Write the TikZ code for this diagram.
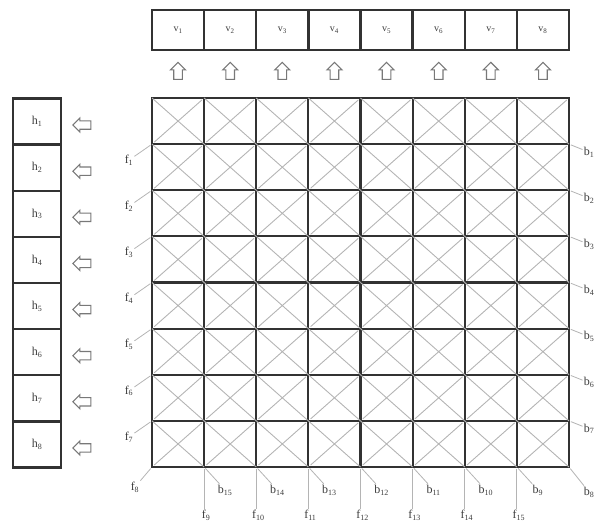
\documentclass[tikz,border=0pt]{standalone}
\usepackage{fontspec}
\setmainfont{Liberation Serif}
\usepackage{tikz}
\usetikzlibrary{shapes,arrows,positioning,shapes.arrows,calc}
\definecolor{gridgray}{RGB}{50, 50, 50}
\definecolor{crossgray}{RGB}{180, 180, 180}
\definecolor{arrowgray}{RGB}{120, 120, 120}
\definecolor{labelgray}{RGB}{60, 60, 60}

\begin{document}
\begin{tikzpicture}[
    x=1pt, y=-1pt,
    cellbox/.style={
        rectangle, draw=gridgray, line width=2.2pt,
        minimum width=52.125pt, minimum height=46.125pt,
        inner sep=0pt, outer sep=0pt
    },
    varbox/.style={
        rectangle, draw=gridgray, line width=2.4pt,
        minimum width=#1, inner sep=0pt, outer sep=0pt,
        text=labelgray, font=\fontsize{10}{11}\selectfont
    },
    uparrow/.style={
        single arrow, draw=arrowgray, line width=1.1pt, shape border rotate=90,
        minimum height=17pt, minimum width=15pt, single arrow head extend=3pt,
        inner sep=3.5pt
    },
    leftarrow/.style={
        single arrow, draw=arrowgray, line width=1.1pt, shape border rotate=180,
        minimum height=18pt, minimum width=14pt, single arrow head extend=2.5pt,
        inner sep=3.2pt
    },
    crossline/.style={draw=crossgray, line width=0.9pt, shorten <=3pt, shorten >=3pt},
    labelline/.style={draw=crossgray, line width=0.8pt, shorten <=2pt},
    diaglabel/.style={text=labelgray, inner sep=1pt, font=\fontsize{12}{13}\selectfont}
]
    \useasboundingbox (0,0) rectangle (599,522);

    \foreach \r in {1,...,8}
        \foreach \c in {1,...,8}
            \node[cellbox] (c-\r-\c) at ({152+(\c-0.5)*52.125},{98+(\r-0.5)*46.125}) {};
    \foreach \r in {1,...,8}
        \foreach \c in {1,...,8}
            \draw[crossline] (c-\r-\c.north west) -- (c-\r-\c.south east)
                             (c-\r-\c.north east) -- (c-\r-\c.south west);

    \foreach \c in {1,...,8} {
        \node[varbox=52.125pt, minimum height=40pt] (v\c) at ({152+(\c-0.5)*52.125},30) {v\textsubscript{\c}};
        \node[uparrow] (up\c) at ({152+(\c-0.5)*52.125},73) {};
    }
    \foreach \r in {1,...,8} {
        \node[varbox=48pt, minimum height=46.125pt, font=\fontsize{12}{13}\selectfont] (h\r) at (37,{98.5+(\r-0.5)*46.125}) {h\textsubscript{\r}};
        \node[leftarrow] (left\r) at (84,{102+(\r-0.5)*46.125}) {};
    }

    \foreach \r in {1,...,7} {
        \node[diaglabel] (f\r) at ($(c-\r-1.south west)+(-23,16)$) {f\textsubscript{\r}};
        \draw[labelline] (c-\r-1.south west) -- (f\r);
        \node[diaglabel] (b\r) at ($(c-\r-8.south east)+(20,8)$) {b\textsubscript{\r}};
        \draw[labelline] (c-\r-8.south east) -- (b\r);
    }
    \node[diaglabel] (f8) at ($(c-8-1.south west)+(-17,20)$) {f\textsubscript{8}};
    \draw[labelline] (c-8-1.south west) -- (f8);
    \node[diaglabel] (b8) at ($(c-8-8.south east)+(20,25)$) {b\textsubscript{8}};
    \draw[labelline] (c-8-8.south east) -- (b8);

    \foreach \c [evaluate=\c as \fn using int(8+\c), evaluate=\c as \bn using int(16-\c)] in {1,...,7} {
        \node[diaglabel] (f\fn) at ($(c-8-\c.south east)+(2,48)$) {f\textsubscript{\fn}};
        \draw[labelline] (c-8-\c.south east) -- (c-8-\c.south east |- f\fn.north);
        \node[diaglabel] (b\bn) at ($(c-8-\c.south east)+(21,23)$) {b\textsubscript{\bn}};
        \draw[labelline] (c-8-\c.south east) -- (b\bn);
    }
\end{tikzpicture}
\end{document}
